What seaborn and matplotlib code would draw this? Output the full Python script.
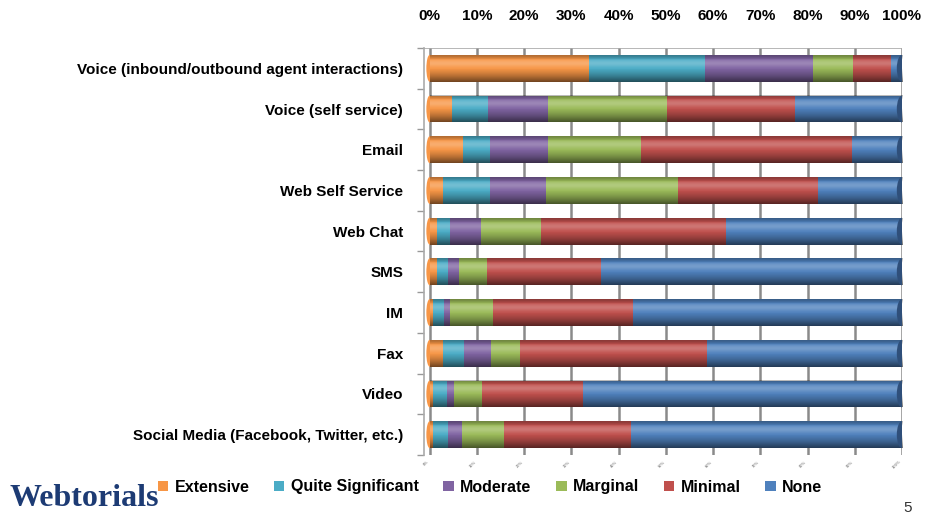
import numpy as np
import pandas as pd
import matplotlib
matplotlib.use("Agg")
import matplotlib.pyplot as plt
from matplotlib.patches import Patch, Ellipse
import seaborn as sns

channels = [
    "Voice (inbound/outbound agent interactions)",
    "Voice (self service)",
    "Email",
    "Web Self Service",
    "Web Chat",
    "SMS",
    "IM",
    "Fax",
    "Video",
    "Social Media (Facebook, Twitter, etc.)",
]
levels = ["Extensive", "Quite Significant", "Moderate", "Marginal", "Minimal", "None"]

extensive = [33.7, 4.8, 7.0, 2.9, 1.5, 1.5, 0.8, 2.9, 0.8, 0.8]
quite_significant = [24.5, 7.5, 5.7, 9.8, 2.8, 2.3, 2.2, 4.3, 2.9, 3.0]
moderate = [22.8, 12.8, 12.4, 11.8, 6.6, 2.4, 1.4, 5.7, 1.4, 3.1]
marginal = [8.6, 25.2, 19.6, 28.0, 12.8, 6.0, 8.9, 6.2, 6.0, 8.8]
minimal = [7.9, 27.0, 44.7, 29.7, 39.2, 24.0, 29.6, 39.7, 21.4, 26.9]
none = [2.4, 22.7, 10.6, 17.7, 37.2, 63.8, 57.0, 41.2, 67.4, 57.4]

colors = ["#F79646", "#4BACC6", "#8064A2", "#9BBB59", "#C0504D", "#4F81BD"]
tick_labels = ["0%", "10%", "20%", "30%", "40%", "50%", "60%", "70%", "80%", "90%", "100%"]

series = [extensive, quite_significant, moderate, marginal, minimal, none]
df = pd.DataFrame({lvl: vals for lvl, vals in zip(levels, series)}, index=channels)
shares = df.div(df.sum(axis=1), axis=0)
cum = shares.cumsum(axis=1)

sns.set_theme(style="white")
plt.rcParams["font.family"] = ["Liberation Sans", "DejaVu Sans"]
plt.rcParams["font.weight"] = "bold"
plt.rcParams["text.color"] = "black"

fig = plt.figure(figsize=(9.29, 5.16), dpi=100)
W, H = 929, 516
x0, x1 = 424, 902
ytop, ybot = 48, 455
ax = fig.add_axes([x0 / W, 1 - ybot / H, (x1 - x0) / W, (ybot - ytop) / H])

bar_h = 0.66
# stacked bars: draw cumulative totals from the outermost segment inwards
for lvl, col in reversed(list(zip(levels, colors))):
    sns.barplot(x=cum[lvl].values, y=channels, orient="h", color=col,
                width=bar_h, saturation=1, ax=ax, edgecolor="none", zorder=3)

# cylinder shading on top of each bar
n = 64
t = np.linspace(0, 1, n)
shade = np.zeros((n, 1, 4))
dark = 0.28 * np.exp(-((t - 0.0) / 0.12) ** 2) + 0.55 * np.clip((t - 0.45) / 0.55, 0, 1) ** 1.4
light = 0.22 * np.exp(-((t - 0.3) / 0.14) ** 2)
rgb = np.where(light[:, None] > dark[:, None], 1.0, 0.0)
shade[:, 0, :3] = rgb
shade[:, 0, 3] = np.maximum(dark, light)
for i in range(len(channels)):
    ax.imshow(shade, extent=(0, 1, i + bar_h / 2, i - bar_h / 2), origin="upper",
              aspect="auto", zorder=4, interpolation="bilinear")
    ax.add_patch(Ellipse((1.0, i), 0.022, bar_h, facecolor="#2f4f7a",
                         edgecolor="none", zorder=5))
    ax.add_patch(Ellipse((0.0, i), 0.014, bar_h, facecolor=colors[0],
                         edgecolor="none", zorder=2))

ax.set_xlim(-0.012, 1.0)
ax.set_ylim(len(channels) - 0.5, -0.5)

# axis, ticks and back-wall grid
ticks = np.linspace(0, 1, 11)
ax.set_xticks(ticks)
ax.set_xticklabels(tick_labels, fontsize=11, fontweight="bold")
ax.xaxis.tick_top()
ax.tick_params(axis="x", length=0, pad=18, colors="black")
for xv, lab in zip(ticks, tick_labels):
    ax.axvline(xv, color="#8a8a8a", lw=1.8, zorder=1)
    ax.text(xv, -0.012, lab, transform=ax.get_xaxis_transform(),
            rotation=45, fontsize=3, color="#999999", ha="right", va="top")
ax.axhline(-0.5, color="#aaaaaa", lw=1.2, zorder=1)

ax.set_yticks(range(len(channels)))
ax.set_yticklabels(channels, fontsize=11.9, fontweight="bold")
ax.set_yticks(np.arange(-0.5, len(channels), 1.0), minor=True)
ax.tick_params(axis="y", which="major", length=0, pad=15, colors="black")
ax.tick_params(axis="y", which="minor", length=5, width=1, color="#999999", left=True)
ax.set_xlabel("")
ax.set_ylabel("")
for side in ["top", "right", "bottom"]:
    ax.spines[side].set_visible(False)
ax.spines["left"].set_color("#aaaaaa")
ax.spines["left"].set_linewidth(1.2)
ax.spines["left"].set_position(("data", -0.012))

handles = [Patch(facecolor=c, edgecolor="none") for c in colors]
leg = fig.legend(handles, levels, loc="center", bbox_to_anchor=(490 / W, 1 - 487 / H), ncol=6,
                 frameon=False, prop={"weight": "bold", "size": 11.5},
                 handlelength=0.65, handleheight=0.65, handletextpad=0.4, columnspacing=1.55)
for txt in leg.get_texts():
    txt.set_color("black")

fig.text(10 / W, 1 - 499 / H, "Webtorials", family=["Liberation Serif", "DejaVu Serif"],
         fontsize=23, fontweight="bold", color="#1d3b74", va="center", ha="left")
fig.text(908 / W, 1 - 508 / H, "5", fontsize=11, fontweight="normal", color="#333333",
         ha="center", va="center")

fig.savefig("out.png", dpi=100)
